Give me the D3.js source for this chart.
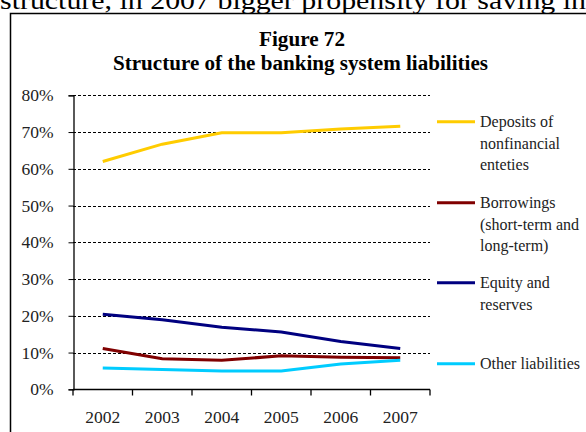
<!DOCTYPE html>
<html>
<head>
<meta charset="utf-8">
<script src="https://cdn.jsdelivr.net/npm/d3@7"></script>
<style>
  html, body { margin: 0; padding: 0; background: #fff; }
  svg { display: block; font-family: "Liberation Serif", "Times New Roman", serif; }
</style>
</head>
<body>
<svg id="chart" width="586" height="432"></svg>
<script>
const years = ["2002", "2003", "2004", "2005", "2006", "2007"];
const deposits = [62, 66.7, 69.8, 69.8, 70.8, 71.6];
const borrowings = [11.1, 8.3, 7.9, 9.1, 8.7, 8.6];
const equity = [20.4, 18.9, 16.9, 15.6, 13.0, 11.1];
const other = [5.8, 5.4, 5.0, 5.0, 6.9, 7.9];
const yTicks = [0, 10, 20, 30, 40, 50, 60, 70, 80];
const seriesNames = [["Deposits of", "nonfinancial", "enteties"], ["Borrowings", "(short-term and", "long-term)"], ["Equity and", "reserves"], ["Other liabilities"]];
const seriesColors = ["#FFCC00", "#800000", "#000080", "#00CCFF"];
const legendY = [121.7, 202.7, 282.7, 363.7];

const series = [deposits, borrowings, equity, other];
const svg = d3.select("#chart");
const SERIF = "Liberation Serif, Times New Roman, serif";

// page text above the figure
svg.append("text").attr("x", 0).attr("y", 9)
  .attr("font-size", 25).attr("textLength", 586).attr("lengthAdjust", "spacingAndGlyphs")
  .text("structure, in 2007 bigger propensity for saving in");

// figure frame
svg.append("path").attr("d", "M10.5,432 V13.5 H586")
  .attr("fill", "none").attr("stroke", "#000").attr("stroke-width", 1.5);

// title
svg.append("text").attr("x", 302).attr("y", 46).attr("text-anchor", "middle")
  .attr("font-weight", "bold").attr("font-size", 20).attr("textLength", 86)
  .attr("lengthAdjust", "spacingAndGlyphs").text("Figure 72");
svg.append("text").attr("x", 300.5).attr("y", 69.5).attr("text-anchor", "middle")
  .attr("font-weight", "bold").attr("font-size", 20).attr("textLength", 375)
  .attr("lengthAdjust", "spacingAndGlyphs")
  .text("Structure of the banking system liabilities");

const x = d3.scaleBand().domain(years).range([73, 430]);
const y = d3.scaleLinear().domain([0, 80]).range([389.3, 95.3]);

// gridlines
svg.append("g").selectAll("line").data(yTicks.filter(d => d > 0)).join("line")
  .attr("x1", 73).attr("x2", 430)
  .attr("y1", d => Math.round(y(d)) + 0.5).attr("y2", d => Math.round(y(d)) + 0.5)
  .attr("stroke", "#000").attr("stroke-width", 1).attr("stroke-dasharray", "3,2");

// y axis
const yAxis = svg.append("g").attr("transform", "translate(73.5,0)")
  .call(d3.axisLeft(y).tickValues(yTicks).tickFormat(d => d + "%").tickSize(5).tickPadding(15));
yAxis.select(".domain").attr("stroke-width", 1.3);
yAxis.selectAll("text").attr("font-size", 17.5).attr("font-family", SERIF).attr("fill", "#222");

// x axis
const xAxis = svg.append("g").attr("transform", "translate(0,389.5)")
  .call(d3.axisBottom(x).tickSize(0).tickPadding(21));
xAxis.select(".domain").attr("stroke-width", 1.3).attr("d", "M73,0H430");
xAxis.selectAll("text").attr("font-size", 17.5).attr("font-family", SERIF).attr("fill", "#222");
// category boundary ticks
const bounds = years.map(d => x(d)).concat([430]);
xAxis.append("g").selectAll("line").data(bounds).join("line")
  .attr("x1", d => d).attr("x2", d => d).attr("y1", 0).attr("y2", 6)
  .attr("stroke", "#000").attr("stroke-width", 1.3);

// lines
const line = d3.line().x((d, i) => x(years[i]) + x.bandwidth() / 2).y(d => y(d));
series.forEach((s, k) => {
  svg.append("path").datum(s).attr("d", line)
    .attr("fill", "none").attr("stroke", seriesColors[k]).attr("stroke-width", 3);
});

// legend
seriesNames.forEach((names, k) => {
  const g = svg.append("g");
  g.append("line").attr("x1", 437).attr("x2", 475)
    .attr("y1", legendY[k]).attr("y2", legendY[k])
    .attr("stroke", seriesColors[k]).attr("stroke-width", 3);
  names.forEach((t, j) => {
    g.append("text").attr("x", 480).attr("y", legendY[k] + 5.5 + j * 21.5)
      .attr("font-size", 16).attr("font-family", SERIF).attr("fill", "#222").text(t);
  });
});
</script>
</body>
</html>
